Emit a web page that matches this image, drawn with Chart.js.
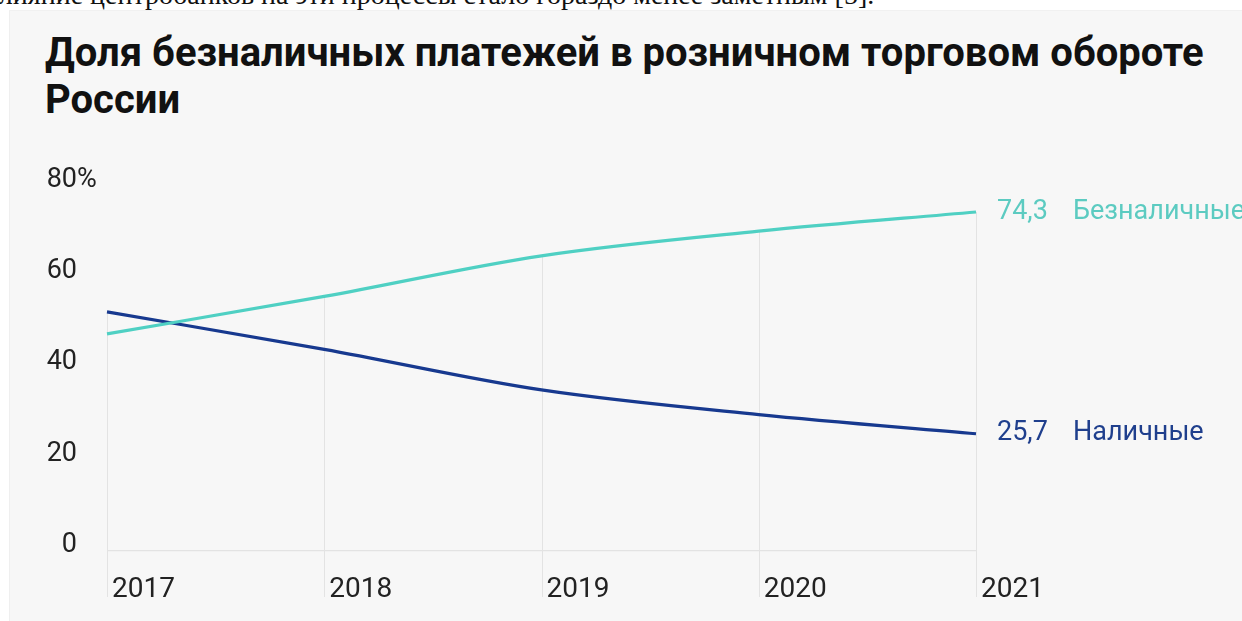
<!DOCTYPE html>
<html lang="ru">
<head>
<meta charset="utf-8">
<title>Доля безналичных платежей в розничном торговом обороте России</title>
<script src="https://cdn.jsdelivr.net/npm/chart.js@4.4.1/dist/chart.umd.min.js"></script>
<style>
  html, body { margin: 0; padding: 0; background: #ffffff; }
  body { width: 1242px; height: 621px; position: relative; overflow: hidden; }
  .lead {
    position: absolute; left: -14px; top: -21px; white-space: nowrap;
    font-family: "Liberation Serif", "DejaVu Serif", serif; font-size: 28px; color: #111;
  }
  .panel {
    position: absolute; left: 9px; top: 10px; width: 1240px; height: 620px;
    background: #f7f7f7; border-left: 1px solid #efefef; border-top: 1px solid #f1f1f1;
  }
  h1 {
    position: absolute; left: 45px; top: 29px; margin: 0;
    font-family: Roboto, "Noto Sans", sans-serif; font-weight: 700; font-size: 40px;
    line-height: 47px; color: #111;
  }
  #wrap { position: absolute; left: 0; top: 0; width: 1242px; height: 621px; }
</style>
</head>
<body>
<div class="lead">влияние центробанков на эти процессы стало гораздо менее заметным [5].</div>
<div class="panel"></div>
<h1>Доля безналичных платежей в розничном торговом обороте<br>России</h1>
<div id="wrap"><canvas id="chart" width="1242" height="621"></canvas></div>
<script>
// Years on the horizontal axis
const years = ['2017', '2018', '2019', '2020', '2021'];
// Share of retail turnover, %
const cashless = [47.6, 55.8, 64.7, 70.1, 74.3];
const cash = [52.4, 44.2, 35.3, 29.9, 25.7];
// Series names shown at the line ends
const seriesNames = ['Безналичные', 'Наличные'];
// Vertical axis ticks
const yTicks = [0, 20, 40, 60, 80];

const TEAL = '#4fd0c3';
const TEAL_TEXT = '#5ccbc1';
const NAVY = '#17398f';
const NAVY_TEXT = '#1f3f8d';
const GRID = '#e3e3e3';
const FONT = 'Roboto, "Noto Sans", sans-serif';

// Vertical year lines: from the highest point of the year down past the baseline
const yearLines = {
  id: 'yearLines',
  beforeDatasetsDraw(chart) {
    const { ctx, scales: { x, y }, chartArea } = chart;
    ctx.save();
    ctx.strokeStyle = GRID;
    ctx.lineWidth = 1;
    years.forEach((_, i) => {
      const px = Math.round(x.getPixelForValue(i)) + 0.5;
      let top = chartArea.bottom;
      chart.data.datasets.forEach(ds => { top = Math.min(top, y.getPixelForValue(ds.data[i])); });
      ctx.beginPath();
      ctx.moveTo(px, top);
      ctx.lineTo(px, chartArea.bottom + 46);
      ctx.stroke();
    });
    ctx.restore();
  }
};

// Value and series name at the end of each line, plus the "%" on the top tick
const endLabels = {
  id: 'endLabels',
  afterDatasetsDraw(chart) {
    const { ctx, scales: { x, y } } = chart;
    ctx.save();
    ctx.font = '27px ' + FONT;
    ctx.textBaseline = 'middle';
    ctx.textAlign = 'left';
    chart.data.datasets.forEach(ds => {
      const last = ds.data.length - 1;
      const px = x.getPixelForValue(last);
      const py = y.getPixelForValue(ds.data[last]);
      ctx.fillStyle = ds.textColor;
      ctx.fillText(ds.data[last].toFixed(1).replace('.', ','), px + 21, py);
      ctx.fillText(ds.label, px + 97, py);
    });
    // percent sign after the top tick value
    const topVal = yTicks[yTicks.length - 1];
    const ty = y.getPixelForValue(topVal) + y.options.ticks.labelOffset;
    const tx = y.right - y.options.ticks.padding;
    ctx.fillStyle = '#222';
    ctx.fillText('%', tx, ty);
    ctx.restore();
  }
};

new Chart(document.getElementById('chart'), {
  type: 'line',
  data: {
    labels: years,
    datasets: [
      { label: seriesNames[0], data: cashless, borderColor: TEAL, textColor: TEAL_TEXT,
        borderWidth: 3.2, pointRadius: 0, cubicInterpolationMode: 'monotone', fill: false },
      { label: seriesNames[1], data: cash, borderColor: NAVY, textColor: NAVY_TEXT,
        borderWidth: 3.2, pointRadius: 0, cubicInterpolationMode: 'monotone', fill: false }
    ]
  },
  options: {
    responsive: false,
    animation: false,
    layout: { padding: { left: 0, right: 266, top: 186, bottom: 16 } },
    plugins: { legend: { display: false }, tooltip: { enabled: false }, title: { display: false } },
    scales: {
      x: {
        type: 'category',
        offset: false,
        afterFit(axis) { axis.height = 54; },
        grid: { display: false, drawTicks: false },
        border: { display: false },
        ticks: { align: 'start', labelOffset: 5, padding: 22, color: '#222',
                 font: { family: FONT, size: 28 }, maxRotation: 0, autoSkip: false }
      },
      y: {
        min: 0, max: 80,
        afterFit(axis) { axis.width = 107; },
        afterBuildTicks(axis) { axis.ticks = yTicks.map(v => ({ value: v })); },
        grid: {
          drawTicks: false,
          color: c => (c.tick && c.tick.value === 0 ? GRID : 'rgba(0,0,0,0)'),
          lineWidth: 1.2
        },
        border: { display: false },
        ticks: { padding: 30, labelOffset: -6, color: '#222',
                 font: { family: FONT, size: 27 } }
      }
    }
  },
  plugins: [yearLines, endLabels]
});
</script>
</body>
</html>
